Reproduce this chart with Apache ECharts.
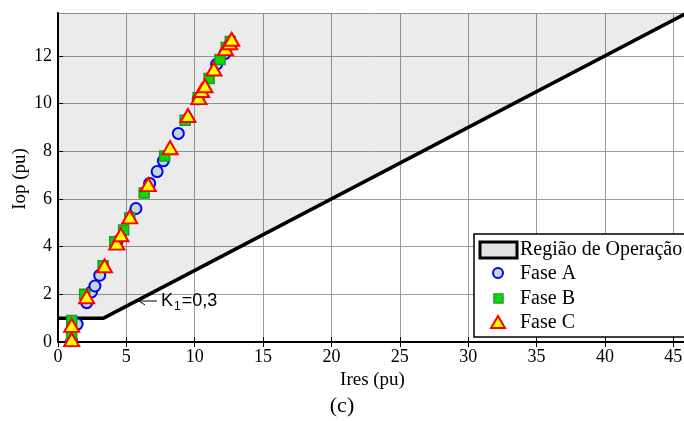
<!DOCTYPE html>
<html>
<head>
<meta charset="utf-8">
<script src="https://cdn.jsdelivr.net/npm/echarts@6/dist/echarts.min.js"></script>
<style>html,body{margin:0;padding:0;background:#fff;}#c{width:684px;height:421px;}</style>
</head>
<body>
<div id="c"></div>
<script>
// Operating region boundary (Iop = max(1, K1*Ires), K1 = 0.3)
var regionX = [0, 3.333, 46];
var regionY = [1, 1, 13.8];

// Fase A (blue circles)
var faseAx = [1.0, 1.4, 2.1, 2.45, 2.7, 3.05, 4.3, 5.7, 6.7, 7.25, 7.7, 8.8, 10.25, 11.6, 12.2, 12.6];
var faseAy = [0.05, 0.75, 1.65, 2.1, 2.35, 2.8, 4.2, 5.6, 6.65, 7.15, 7.6, 8.75, 10.2, 11.65, 12.1, 12.5];
// Fase B (green squares)
var faseBx = [1.0, 1.0, 1.95, 3.3, 4.15, 4.8, 5.25, 6.3, 7.8, 9.3, 10.25, 11.05, 11.85, 12.3, 12.6];
var faseBy = [0.2, 0.9, 2.0, 3.2, 4.2, 4.7, 5.2, 6.25, 7.8, 9.3, 10.25, 11.05, 11.85, 12.35, 12.6];
// Fase C (red/yellow triangles)
var faseCx = [1.0, 1.0, 2.1, 3.4, 4.3, 4.6, 5.25, 6.6, 8.2, 9.5, 10.3, 10.5, 10.75, 11.4, 12.25, 12.55, 12.7];
var faseCy = [0.1, 0.7, 1.9, 3.2, 4.15, 4.5, 5.25, 6.6, 8.15, 9.5, 10.25, 10.55, 10.75, 11.45, 12.3, 12.55, 12.7];

// Axis ticks
var xMin = 0, xMax = 46, xStep = 5;
var yMin = 0, yMax = 13.8, yStep = 2;

var legendNames = ['Região de Operação', 'Fase A', 'Fase B', 'Fase C'];

function zip(a, b) { return a.map(function (v, i) { return [v, b[i]]; }); }

var serif = '"Liberation Serif", "Times New Roman", serif';
var sans = '"Liberation Sans", Arial, sans-serif';
var chart = echarts.init(document.getElementById('c'), null, {renderer: 'canvas'});

var GL = 58, GT = 13, GW = 629, GH = 329;

var option = {
  animation: false,
  backgroundColor: '#ffffff',
  grid: {left: GL, top: GT, width: GW, height: GH, containLabel: false, outerBoundsMode: 'none'},
  xAxis: [{
    type: 'value', min: xMin, max: xMax, interval: xStep,
    name: 'Ires (pu)', nameLocation: 'middle', nameGap: 25,
    nameTextStyle: {fontFamily: serif, fontSize: 19, color: '#000'},
    axisLine: {show: true, onZero: false, lineStyle: {color: '#000', width: 2}},
    axisTick: {show: true, inside: true, length: 5, lineStyle: {color: '#000', width: 1}},
    axisLabel: {fontFamily: serif, fontSize: 18, color: '#000', margin: 6, showMaxLabel: false},
    splitLine: {show: true, lineStyle: {color: '#9c9c9c', width: 1}}
  }, {
    type: 'value', position: 'top', min: xMin, max: xMax, interval: xStep,
    axisLine: {show: true, lineStyle: {color: '#000', width: 1.5}},
    axisTick: {show: true, inside: true, length: 5, lineStyle: {color: '#000', width: 1}},
    axisLabel: {show: false},
    splitLine: {show: false}
  }],
  yAxis: [{
    type: 'value', min: yMin, max: yMax, interval: yStep,
    axisLine: {show: true, onZero: false, lineStyle: {color: '#000', width: 2}},
    axisTick: {show: true, inside: true, length: 5, lineStyle: {color: '#000', width: 1}},
    axisLabel: {fontFamily: serif, fontSize: 18, color: '#000', margin: 6, showMaxLabel: false},
    splitLine: {show: true, lineStyle: {color: '#9c9c9c', width: 1}}
  }],
  series: [{
    name: legendNames[0], type: 'line', data: zip(regionX, regionY),
    symbol: 'none', z: 3,
    lineStyle: {color: '#000', width: 3.5},
    areaStyle: {origin: 'end', color: 'rgba(0,0,0,0.115)'}
  }, {
    name: legendNames[1], type: 'scatter', data: zip(faseAx, faseAy), z: 4,
    symbol: 'circle', symbolSize: 11,
    itemStyle: {color: '#c4d8d8', borderColor: '#0000ff', borderWidth: 2, opacity: 1}
  }, {
    name: legendNames[2], type: 'scatter', data: zip(faseBx, faseBy), z: 5,
    symbol: 'rect', symbolSize: 10,
    itemStyle: {color: '#00e000', borderColor: '#229922', borderWidth: 1.5, opacity: 1}
  }, {
    name: legendNames[3], type: 'scatter', data: zip(faseCx, faseCy), z: 6,
    symbol: 'triangle', symbolSize: [15, 13],
    itemStyle: {color: '#ffff00', borderColor: '#ff0000', borderWidth: 2, opacity: 1}
  }],
  graphic: [
    // y-axis title
    {type: 'text', x: 20, y: 179, rotation: Math.PI / 2, z: 10,
      style: {text: 'Iop (pu)', fontFamily: serif, fontSize: 19, fill: '#000', align: 'center', verticalAlign: 'middle'}},
    // annotation arrow
    {type: 'line', shape: {x1: 139, y1: 301, x2: 157, y2: 301}, z: 10, style: {stroke: '#000', lineWidth: 1}},
    {type: 'polyline', shape: {points: [[145, 297], [139, 301], [145, 305]]}, z: 10, style: {stroke: '#000', lineWidth: 1, fill: null}},
    {type: 'text', left: 161, top: 292, z: 10, style: {
      rich: {
        n: {fontFamily: sans, fontSize: 18, fill: '#000'},
        s: {fontFamily: sans, fontSize: 12, fill: '#000', padding: [12, 1, 0, 1]}
      },
      text: '{n|K}{s|1}{n|=0,3}'
    }},
    // legend box
    {type: 'rect', shape: {x: 474, y: 234, width: 215, height: 103}, z: 20,
      style: {fill: '#fff', stroke: '#000', lineWidth: 1.5}},
    {type: 'rect', shape: {x: 480, y: 242, width: 37, height: 16}, z: 21,
      style: {fill: '#e2e2e2', stroke: '#000', lineWidth: 3}},
    {type: 'text', x: 520, y: 250, z: 21, style: {text: legendNames[0], fontFamily: serif, fontSize: 20, fill: '#000', verticalAlign: 'middle'}},
    {type: 'circle', shape: {cx: 498, cy: 273, r: 5}, z: 21,
      style: {fill: '#c4d8d8', stroke: '#0000ff', lineWidth: 2}},
    {type: 'text', x: 520, y: 274, z: 21, style: {text: legendNames[1], fontFamily: serif, fontSize: 20, fill: '#000', verticalAlign: 'middle'}},
    {type: 'rect', shape: {x: 494, y: 294, width: 9, height: 9}, z: 21,
      style: {fill: '#00e000', stroke: '#229922', lineWidth: 1.5}},
    {type: 'text', x: 520, y: 299, z: 21, style: {text: legendNames[2], fontFamily: serif, fontSize: 20, fill: '#000', verticalAlign: 'middle'}},
    {type: 'polygon', shape: {points: [[498, 316], [505, 328], [491, 328]]}, z: 21,
      style: {fill: '#ffff00', stroke: '#ff0000', lineWidth: 2}},
    {type: 'text', x: 520, y: 323, z: 21, style: {text: legendNames[3], fontFamily: serif, fontSize: 20, fill: '#000', verticalAlign: 'middle'}},
    // subfigure caption
    {type: 'text', x: 342, y: 406, z: 21, style: {text: '(c)', fontFamily: serif, fontSize: 22, fill: '#000', align: 'center', verticalAlign: 'middle'}}
  ]
};
chart.setOption(option);
</script>
</body>
</html>
